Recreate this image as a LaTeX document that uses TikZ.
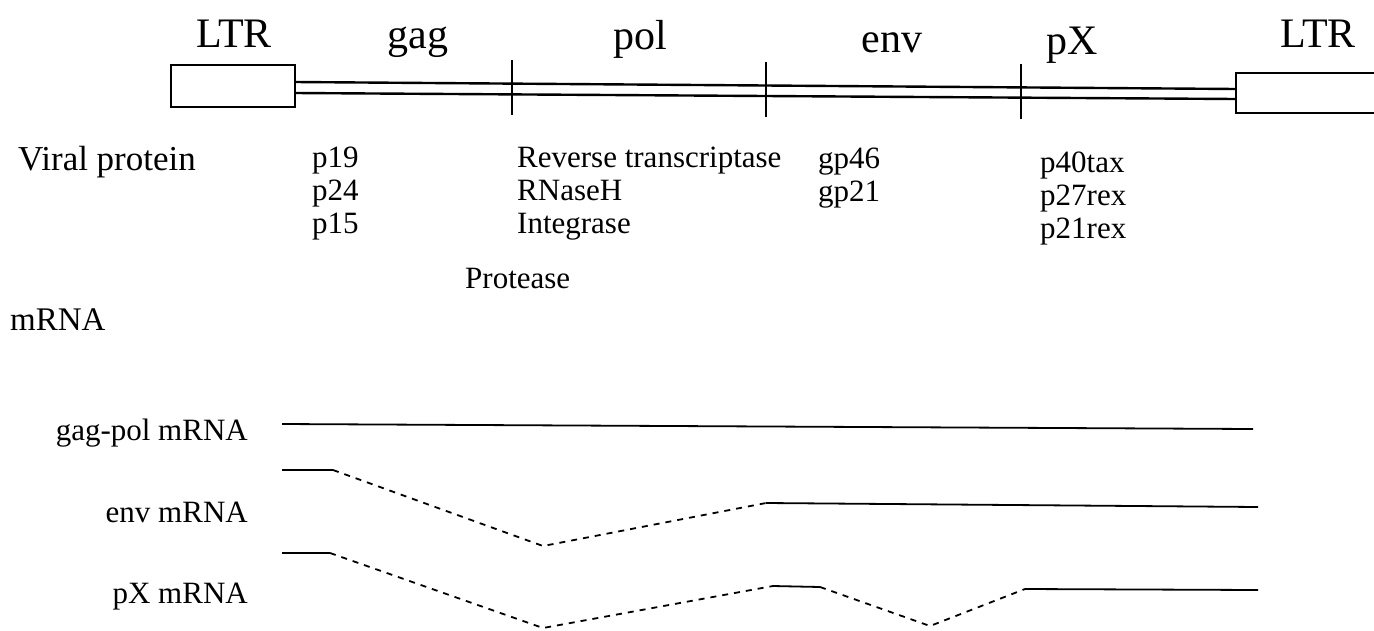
\documentclass[tikz,border=0pt]{standalone}
\usepackage{fontspec}
\setmainfont{Liberation Serif}
\begin{document}
\begin{tikzpicture}[x=1pt,y=-1pt,
  gene/.style={anchor=base,inner sep=0pt,font=\fontsize{42}{44}\selectfont},
  lab/.style={anchor=base west,inner sep=0pt,font=\fontsize{31}{33}\selectfont},
  rlab/.style={anchor=base east,inner sep=0pt,font=\fontsize{31}{33}\selectfont},
  ltrbox/.style={draw,line width=2pt},
  strand/.style={line width=2.4pt},
  tick/.style={line width=2pt},
  exon/.style={line width=1.8pt},
  intron/.style={line width=1.8pt,dash pattern=on 6pt off 6pt}]
\useasboundingbox (0,0) rectangle (1374,630);

% genome map
\draw[ltrbox] (171,65) rectangle (295,107);
\draw[ltrbox] (1400,73) -- (1236,73) -- (1236,113) -- (1400,113);
\coordinate (sL1) at (295,82);  \coordinate (sR1) at (1236,89);
\coordinate (sL2) at (295,93);  \coordinate (sR2) at (1236,99);
\draw[strand] (sL1) -- (sR1);
\draw[strand] (sL2) -- (sR2);
\draw[tick] (512,60) -- (512,115);
\draw[tick] (766,62) -- (766,117);
\draw[tick] (1021,64) -- (1021,119);

\node[gene] (ltr1) at (234,47) {LTR};
\node[gene] (gag) at (418,48) {gag};
\node[gene] (pol) at (640,49) {pol};
\node[gene] (env) at (892,52) {env};
\node[gene] (px) at (1072,54) {pX};
\node[gene] (ltr2) at (1318,47) {LTR};

% proteins
\node[lab,font=\fontsize{35}{37}\selectfont] (vp) at (18,170) {Viral protein};
\node[lab] (p19) at (312,167) {p19};
\node[lab] (p24) at (312,200) {p24};
\node[lab] (p15) at (312,233) {p15};
\node[lab] (rt) at (517,167) {Reverse transcriptase};
\node[lab] (rh) at (517,200) {RNaseH};
\node[lab] (int) at (517,233) {Integrase};
\node[lab] (pr) at (465,288) {Protease};
\node[lab] (gp46) at (818,168) {gp46};
\node[lab] (gp21) at (818,201) {gp21};
\node[lab] (tax) at (1040,172) {p40tax};
\node[lab] (rex27) at (1040,205) {p27rex};
\node[lab] (rex21) at (1040,238) {p21rex};

% transcripts
\node[lab,font=\fontsize{33}{35}\selectfont] (mrna) at (10,330) {mRNA};
\node[rlab] (gp) at (248,440) {gag-pol mRNA};
\node[rlab] (em) at (248,522) {env mRNA};
\node[rlab] (xm) at (248,603) {pX mRNA};

\coordinate (g1) at (282,424); \coordinate (g2) at (1253,429);
\draw[exon] (g1) -- (g2);

\coordinate (e1) at (282,470); \coordinate (e2) at (333,470);
\coordinate (e3) at (543,546); \coordinate (e4) at (766,503);
\coordinate (e5) at (1258,507);
\draw[exon] (e1) -- (e2);
\draw[intron] (e2) -- (e3) -- (e4);
\draw[exon] (e4) -- (e5);

\coordinate (x1) at (282,553); \coordinate (x2) at (330,553);
\coordinate (x3) at (543,628); \coordinate (x4) at (773,586);
\coordinate (x5) at (820,587); \coordinate (x6) at (930,626);
\coordinate (x7) at (1025,589); \coordinate (x8) at (1258,590);
\draw[exon] (x1) -- (x2);
\draw[intron] (x2) -- (x3) -- (x4);
\draw[exon] (x4) -- (x5);
\draw[intron] (x5) -- (x6) -- (x7);
\draw[exon] (x7) -- (x8);
\end{tikzpicture}
\end{document}
